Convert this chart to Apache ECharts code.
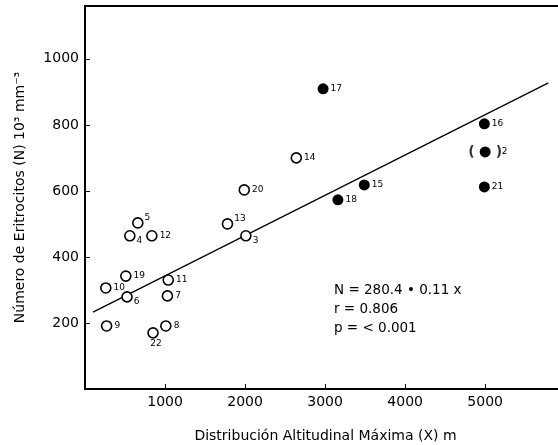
<!DOCTYPE html>
<html>
<head>
<meta charset="utf-8">
<script src="https://cdn.jsdelivr.net/npm/echarts@6/dist/echarts.min.js"></script>
<style>
  html, body { margin: 0; padding: 0; background: #fff; }
  #chart { width: 558px; height: 445px; }
</style>
</head>
<body>
<div id="chart"></div>
<script>
// open circles
var openIds = [3, 4, 5, 6, 7, 8, 9, 10, 11, 12, 13, 14, 19, 20, 22];
var openX = [2010, 560, 660, 525, 1030, 1010, 270, 260, 1040, 835, 1780, 2640, 510, 1990, 850];
var openY = [464, 464, 503, 279, 282, 191, 191, 306, 330, 464, 500, 700, 342, 603, 170];

// filled circles
var filledIds = [2, 15, 16, 17, 18, 21];
var filledX = [5000, 3490, 4990, 2975, 3160, 4990];
var filledY = [718, 618, 803, 909, 573, 612];

// fitted line as drawn
var lineX = [100, 5790];
var lineY = [233, 927];

var xTicks = [1000, 2000, 3000, 4000, 5000];
var yTicks = [200, 400, 600, 800, 1000];

var eqLines = ['N = 280.4 \u2022 0.11 x', 'r = 0.806', 'p = < 0.001'];

var font = 'DejaVu Sans';

// where the little number sits next to each marker
var subIds = [3, 4, 6];
var supIds = [5, 13];

function lbl(id) {
    var l = { show: true, formatter: String(id), fontSize: 9, color: '#000', fontFamily: font,
              position: 'right', distance: 2 };
    if (subIds.indexOf(id) >= 0) { l.offset = [-1, 5]; }
    else if (supIds.indexOf(id) >= 0) { l.offset = [-1, -5]; }
    else if (id === 22) { l.position = 'bottom'; l.distance = 0; l.offset = [3, 0]; }
    else if (id === 2) { l.offset = [9, 0]; }
    return l;
}

function pts(ids, xs, ys) {
    var out = [];
    for (var i = 0; i < ids.length; i++) {
        out.push({ value: [xs[i], ys[i]], label: lbl(ids[i]) });
    }
    return out;
}

var lineData = [];
for (var i = 0; i < lineX.length; i++) lineData.push([lineX[i], lineY[i]]);

var k2 = filledIds.indexOf(2);

var chart = echarts.init(document.getElementById('chart'), null, { renderer: 'canvas' });
chart.setOption({
    animation: false,
    backgroundColor: '#fff',
    grid: { left: 85, right: -8, top: 6, bottom: 56, outerBoundsMode: 'none',
            show: true, borderColor: '#000', borderWidth: 2 },
    xAxis: {
        type: 'value', min: 0, max: 6010, interval: 1000,
        name: 'Distribución Altitudinal Máxima (X) m',
        nameLocation: 'middle', nameGap: 40,
        nameTextStyle: { fontSize: 14, color: '#000', fontFamily: font },
        axisLine: { show: true, lineStyle: { color: '#000', width: 2 } },
        axisTick: { show: true, inside: true, length: 5, lineStyle: { color: '#000' } },
        splitLine: { show: false },
        axisLabel: {
            fontSize: 14, color: '#000', fontFamily: font, margin: 6,
            formatter: function (v) { return xTicks.indexOf(v) >= 0 ? String(v) : ''; }
        }
    },
    yAxis: {
        type: 'value', min: 0, max: 1160, interval: 200,
        name: 'Número de Eritrocitos (N) 10\u00b3 mm\u207b\u00b3',
        nameLocation: 'middle', nameGap: 58, nameRotate: 90,
        nameTextStyle: { fontSize: 14, color: '#000', fontFamily: font },
        axisLine: { show: true, lineStyle: { color: '#000', width: 2 } },
        axisTick: { show: true, inside: true, length: 5, lineStyle: { color: '#000' } },
        splitLine: { show: false },
        axisLabel: {
            fontSize: 14, color: '#000', fontFamily: font, margin: 6,
            formatter: function (v) { return yTicks.indexOf(v) >= 0 ? String(v) : ''; }
        }
    },
    graphic: eqLines.map(function (t, i) {
        return {
            type: 'text', left: 334, top: 283 + i * 19,
            style: { text: t, fontSize: 13.5, fill: '#000', fontFamily: font }
        };
    }),
    series: [
        {
            type: 'line', data: lineData, symbol: 'none', silent: true,
            lineStyle: { color: '#000', width: 1.3 }, z: 1
        },
        {
            type: 'scatter', data: pts(openIds, openX, openY), symbol: 'circle', symbolSize: 10,
            itemStyle: { color: '#fff', borderColor: '#000', borderWidth: 1.6, opacity: 1 }, z: 3
        },
        {
            type: 'scatter', data: pts(filledIds, filledX, filledY), symbol: 'circle', symbolSize: 11,
            itemStyle: { color: '#000', opacity: 1 }, z: 3
        },
        {
            type: 'scatter', symbol: 'circle', symbolSize: 1, silent: true,
            itemStyle: { color: 'rgba(0,0,0,0)' },
            data: [[filledX[k2], filledY[k2]]],
            label: {
                show: true, position: 'inside', formatter: '(\u2003\u2002)',
                fontSize: 14, fontWeight: 'bold', color: '#000', fontFamily: font
            }, z: 4
        }
    ]
});
</script>
</body>
</html>
